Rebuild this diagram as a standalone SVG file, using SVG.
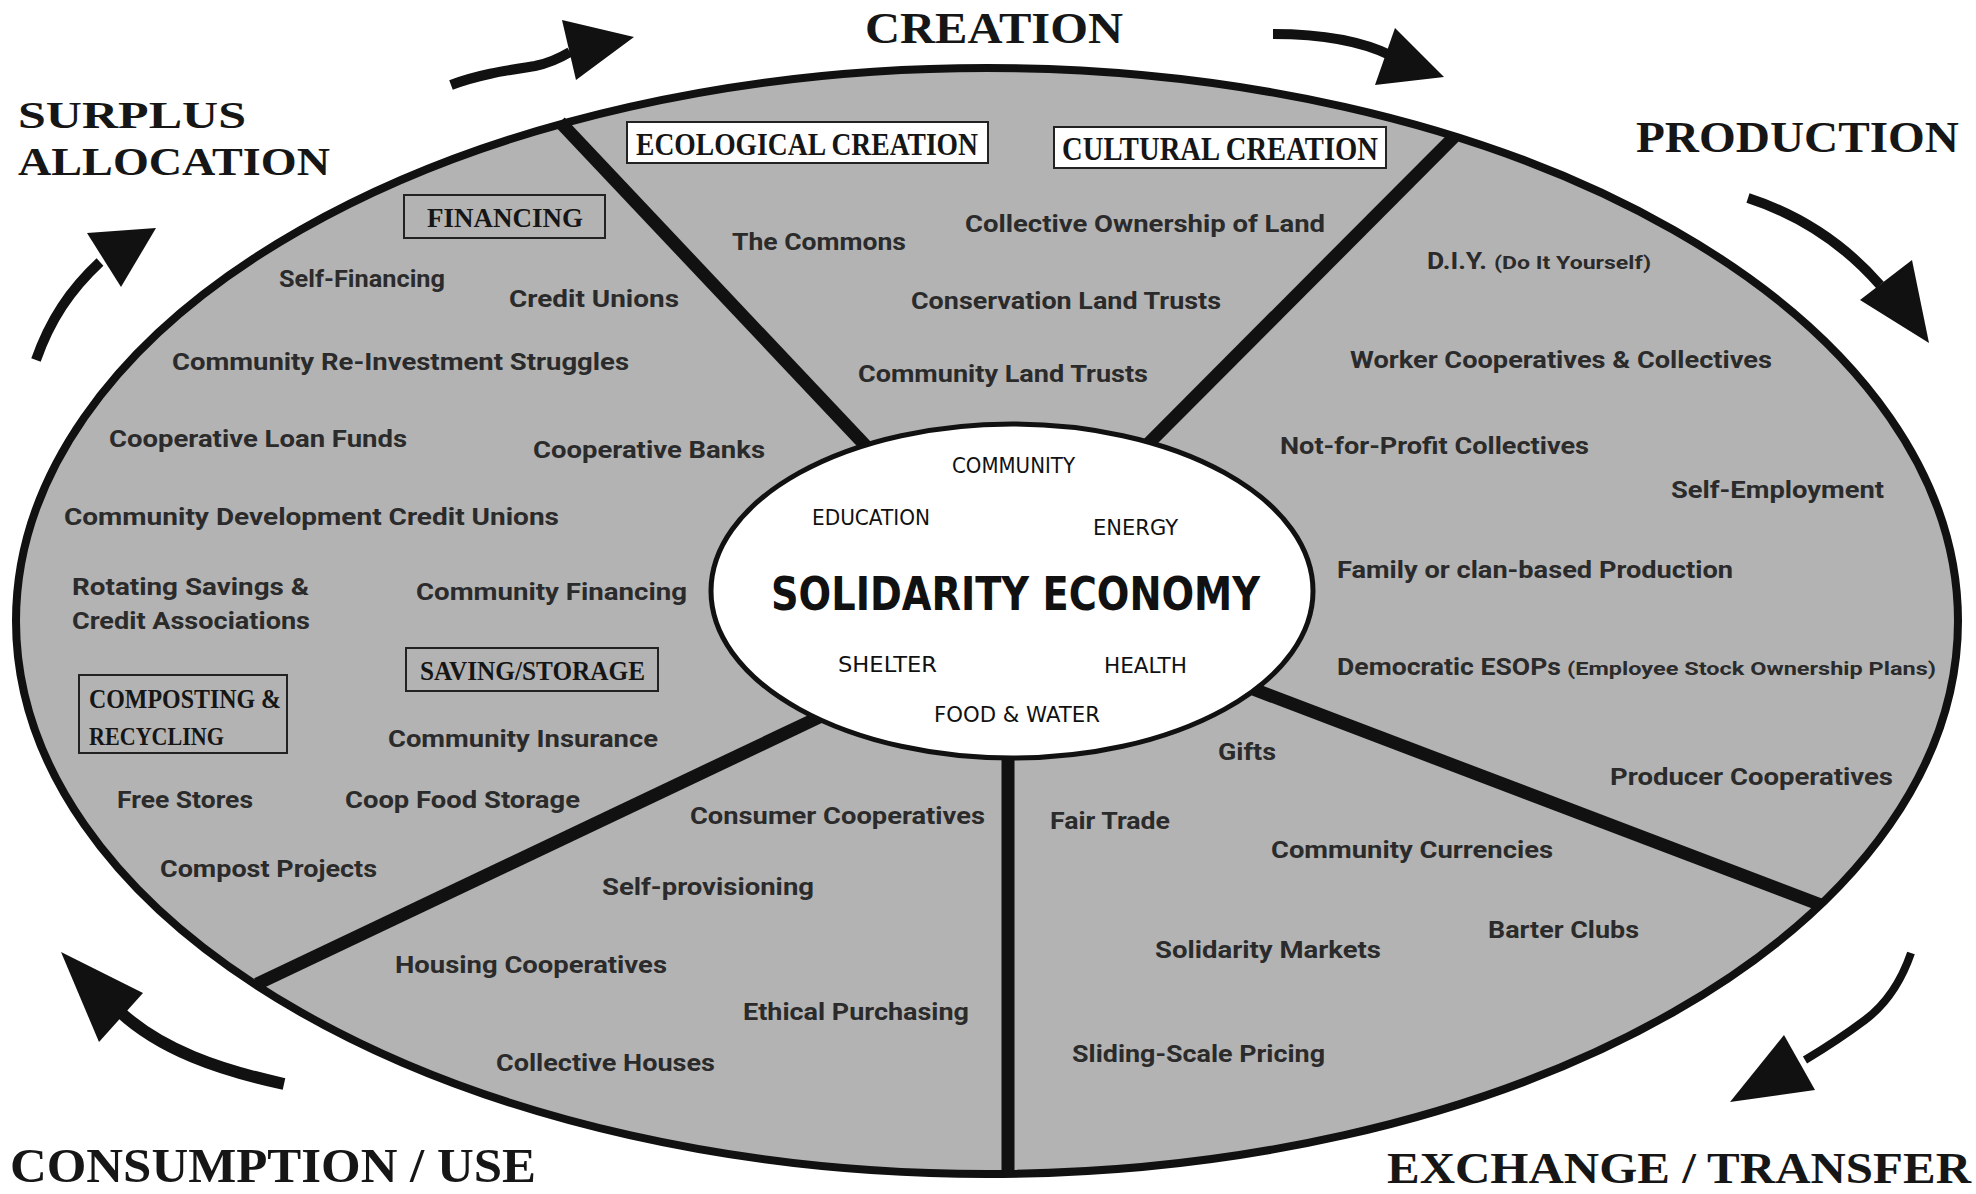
<svg xmlns="http://www.w3.org/2000/svg" width="1976" height="1194" viewBox="0 0 1976 1194">
<style>
.t{font-family:Roboto,"Liberation Sans",sans-serif;font-weight:700;font-size:24px;fill:#2b2b2b}
.ts{font-family:Roboto,"Liberation Sans",sans-serif;font-weight:700;font-size:19px;fill:#2b2b2b}
.g{font-family:"Liberation Serif","DejaVu Serif",serif;font-weight:700;fill:#161616}
.h{font-family:"DejaVu Sans","Liberation Sans",sans-serif;font-size:21px;fill:#111}
.box{fill:#ffffff;stroke:#222;stroke-width:2}
.boxg{fill:none;stroke:#222;stroke-width:2}
.div{stroke:#111;stroke-width:13;fill:none}
.arw{fill:none;stroke:#111;stroke-width:10;stroke-linecap:butt}
.head{fill:#111}
</style>
<rect width="1976" height="1194" fill="#ffffff"/>
<g id="wheel">
<ellipse cx="987" cy="621" rx="971" ry="553" fill="#b3b3b3" stroke="#111" stroke-width="8"/>
<line class="div" x1="560" y1="122" x2="880" y2="461"/>
<line class="div" x1="1454" y1="137" x2="1140" y2="452"/>
<line class="div" x1="1821" y1="905" x2="1240" y2="684"/>
<line class="div" x1="1008" y1="1173" x2="1008" y2="740"/>
<line class="div" x1="257" y1="984" x2="830" y2="712"/>
</g>
<g id="center">
<ellipse cx="1012" cy="591" rx="301" ry="167" fill="#ffffff" stroke="#111" stroke-width="5"/>
<text class="h" x="952" y="473" textLength="123" lengthAdjust="spacingAndGlyphs">COMMUNITY</text>
<text class="h" x="812" y="525" textLength="118" lengthAdjust="spacingAndGlyphs">EDUCATION</text>
<text class="h" x="1093" y="535" textLength="85" lengthAdjust="spacingAndGlyphs">ENERGY</text>
<text x="771" y="610" textLength="489" lengthAdjust="spacingAndGlyphs" style="font-family:'DejaVu Sans','Liberation Sans',sans-serif;font-weight:700;font-size:46px;fill:#111">SOLIDARITY ECONOMY</text>
<text class="h" x="838" y="672" textLength="99" lengthAdjust="spacingAndGlyphs">SHELTER</text>
<text class="h" x="1104" y="673" textLength="83" lengthAdjust="spacingAndGlyphs">HEALTH</text>
<text class="h" x="934" y="722" textLength="166" lengthAdjust="spacingAndGlyphs">FOOD &amp; WATER</text>
</g>
<g id="creation">
<rect class="box" x="627" y="122" width="361" height="41"/>
<text class="g" x="636" y="155" font-size="31" textLength="342" lengthAdjust="spacingAndGlyphs">ECOLOGICAL CREATION</text>
<rect class="box" x="1054" y="127" width="332" height="41"/>
<text class="g" x="1062" y="160" font-size="33" textLength="316" lengthAdjust="spacingAndGlyphs">CULTURAL  CREATION</text>
<text class="t" x="732" y="250" textLength="174" lengthAdjust="spacingAndGlyphs">The Commons</text>
<text class="t" x="965" y="232" textLength="360" lengthAdjust="spacingAndGlyphs">Collective Ownership of Land</text>
<text class="t" x="911" y="309" textLength="310" lengthAdjust="spacingAndGlyphs">Conservation Land Trusts</text>
<text class="t" x="858" y="382" textLength="290" lengthAdjust="spacingAndGlyphs">Community Land Trusts</text>
</g>
<g id="production">
<text class="t" x="1427" y="269" textLength="60" lengthAdjust="spacingAndGlyphs">D.I.Y.</text>
<text class="ts" x="1494" y="269" textLength="157" lengthAdjust="spacingAndGlyphs">(Do It Yourself)</text>
<text class="t" x="1350" y="368" textLength="422" lengthAdjust="spacingAndGlyphs">Worker Cooperatives &amp; Collectives</text>
<text class="t" x="1280" y="454" textLength="309" lengthAdjust="spacingAndGlyphs">Not-for-Profit Collectives</text>
<text class="t" x="1671" y="498" textLength="213" lengthAdjust="spacingAndGlyphs">Self-Employment</text>
<text class="t" x="1337" y="578" textLength="396" lengthAdjust="spacingAndGlyphs">Family or clan-based Production</text>
<text class="t" x="1337" y="675" textLength="224" lengthAdjust="spacingAndGlyphs">Democratic ESOPs</text>
<text class="ts" x="1567" y="675" textLength="369" lengthAdjust="spacingAndGlyphs">(Employee Stock Ownership Plans)</text>
<text class="t" x="1610" y="785" textLength="283" lengthAdjust="spacingAndGlyphs">Producer Cooperatives</text>
</g>
<g id="exchange">
<text class="t" x="1218" y="760" textLength="58" lengthAdjust="spacingAndGlyphs">Gifts</text>
<text class="t" x="1050" y="829" textLength="120" lengthAdjust="spacingAndGlyphs">Fair Trade</text>
<text class="t" x="1271" y="858" textLength="282" lengthAdjust="spacingAndGlyphs">Community Currencies</text>
<text class="t" x="1488" y="938" textLength="151" lengthAdjust="spacingAndGlyphs">Barter Clubs</text>
<text class="t" x="1155" y="958" textLength="226" lengthAdjust="spacingAndGlyphs">Solidarity Markets</text>
<text class="t" x="1072" y="1062" textLength="253" lengthAdjust="spacingAndGlyphs">Sliding-Scale Pricing</text>
</g>
<g id="consumption">
<text class="t" x="690" y="824" textLength="295" lengthAdjust="spacingAndGlyphs">Consumer Cooperatives</text>
<text class="t" x="602" y="895" textLength="212" lengthAdjust="spacingAndGlyphs">Self-provisioning</text>
<text class="t" x="395" y="973" textLength="272" lengthAdjust="spacingAndGlyphs">Housing Cooperatives</text>
<text class="t" x="743" y="1020" textLength="226" lengthAdjust="spacingAndGlyphs">Ethical Purchasing</text>
<text class="t" x="496" y="1071" textLength="219" lengthAdjust="spacingAndGlyphs">Collective Houses</text>
</g>
<g id="surplus">
<rect class="boxg" x="404" y="195" width="201" height="43"/>
<text class="g" x="427" y="227" font-size="28" textLength="156" lengthAdjust="spacingAndGlyphs">FINANCING</text>
<text class="t" x="279" y="287" textLength="166" lengthAdjust="spacingAndGlyphs">Self-Financing</text>
<text class="t" x="509" y="307" textLength="170" lengthAdjust="spacingAndGlyphs">Credit Unions</text>
<text class="t" x="172" y="370" textLength="457" lengthAdjust="spacingAndGlyphs">Community Re-Investment Struggles</text>
<text class="t" x="109" y="447" textLength="298" lengthAdjust="spacingAndGlyphs">Cooperative Loan Funds</text>
<text class="t" x="533" y="458" textLength="232" lengthAdjust="spacingAndGlyphs">Cooperative Banks</text>
<text class="t" x="64" y="525" textLength="495" lengthAdjust="spacingAndGlyphs">Community Development Credit Unions</text>
<text class="t" x="72" y="595" textLength="237" lengthAdjust="spacingAndGlyphs">Rotating Savings &amp;</text>
<text class="t" x="72" y="629" textLength="238" lengthAdjust="spacingAndGlyphs">Credit Associations</text>
<text class="t" x="416" y="600" textLength="271" lengthAdjust="spacingAndGlyphs">Community Financing</text>
<rect class="boxg" x="406" y="648" width="252" height="43"/>
<text class="g" x="420" y="680" font-size="27" textLength="225" lengthAdjust="spacingAndGlyphs">SAVING/STORAGE</text>
<rect class="boxg" x="79" y="675" width="208" height="78"/>
<text class="g" x="89" y="708" font-size="27" textLength="192" lengthAdjust="spacingAndGlyphs">COMPOSTING &amp;</text>
<text class="g" x="89" y="745" font-size="25" textLength="135" lengthAdjust="spacingAndGlyphs">RECYCLING</text>
<text class="t" x="388" y="747" textLength="270" lengthAdjust="spacingAndGlyphs">Community Insurance</text>
<text class="t" x="117" y="808" textLength="136" lengthAdjust="spacingAndGlyphs">Free Stores</text>
<text class="t" x="345" y="808" textLength="235" lengthAdjust="spacingAndGlyphs">Coop Food Storage</text>
<text class="t" x="160" y="877" textLength="217" lengthAdjust="spacingAndGlyphs">Compost Projects</text>
</g>
<g id="labels">
<text class="g" x="18" y="128" font-size="38" textLength="228" lengthAdjust="spacingAndGlyphs">SURPLUS</text>
<text class="g" x="18" y="175" font-size="40" textLength="312" lengthAdjust="spacingAndGlyphs">ALLOCATION</text>
<text class="g" x="865" y="43" font-size="44" textLength="258" lengthAdjust="spacingAndGlyphs">CREATION</text>
<text class="g" x="1636" y="152" font-size="44" textLength="323" lengthAdjust="spacingAndGlyphs">PRODUCTION</text>
<text class="g" x="1387" y="1183" font-size="45" textLength="584" lengthAdjust="spacingAndGlyphs">EXCHANGE / TRANSFER</text>
<text class="g" x="10" y="1182" font-size="48" textLength="526" lengthAdjust="spacingAndGlyphs">CONSUMPTION / USE</text>
</g>
<g id="connectors">
<path class="arw" d="M451,85 C480,74 510,70 535,66 C550,63 560,58 570,52"/>
<polygon class="head" points="562,20 634,37 576,80"/>
<path class="arw" d="M1273,34 C1320,34 1360,40 1392,56"/>
<polygon class="head" points="1395,28 1444,77 1375,85"/>
<path class="arw" d="M1748,198 C1800,215 1845,245 1880,285"/>
<polygon class="head" points="1860,300 1912,260 1929,343"/>
<path class="arw" d="M1911,953 C1900,985 1885,1005 1865,1020 C1845,1035 1830,1045 1805,1060" style="stroke-width:8"/>
<polygon class="head" points="1784,1035 1815,1090 1730,1102"/>
<path class="arw" d="M284,1084 C220,1070 160,1050 118,1010" style="stroke-width:12"/>
<polygon class="head" points="143,993 99,1042 61,952"/>
<path class="arw" d="M36,360 C50,320 70,290 100,262"/>
<polygon class="head" points="87,233 121,287 156,228"/>
</g>
</svg>
